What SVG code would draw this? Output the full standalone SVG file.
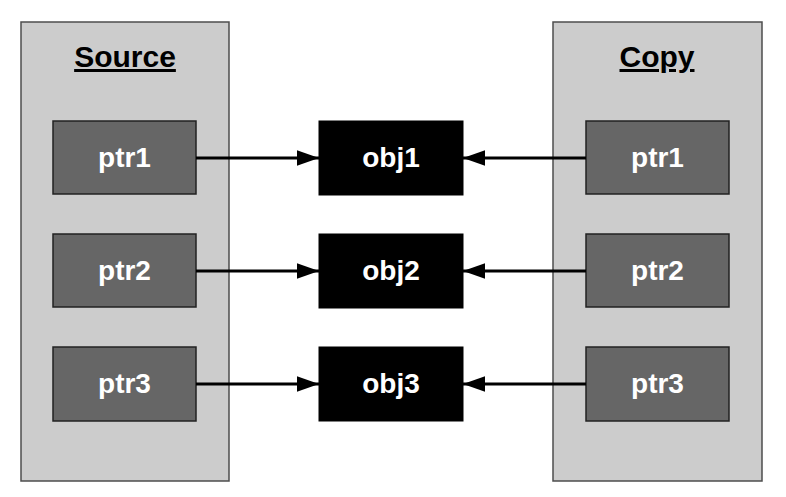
<svg xmlns="http://www.w3.org/2000/svg" width="786" height="497" viewBox="0 0 786 497">
<defs>
<style>
.cont{fill:#cccccc;stroke:#4d4d4d;stroke-width:1.5}
.ptr{fill:#666666;stroke:#222222;stroke-width:1.5}
.obj{fill:#000000;stroke:#000000;stroke-width:1}
.title{font-family:"Liberation Sans",Arial,sans-serif;font-weight:bold;font-size:30px;fill:#000;text-anchor:middle;text-decoration:underline}
.lbl{font-family:"Liberation Sans",Arial,sans-serif;font-weight:bold;font-size:28px;fill:#ffffff;text-anchor:middle}
.conn{stroke:#000;stroke-width:3;fill:none}
</style>
<marker id="ah" markerWidth="7.4" markerHeight="5.2" refX="7.4" refY="2.6" orient="auto" markerUnits="strokeWidth">
<path d="M0,0 L7.4,2.6 L0,5.2 Z" fill="#000"/>
</marker>
</defs>
<rect width="786" height="497" fill="#ffffff"/>
<g id="source">
<rect class="cont" x="21" y="22" width="208" height="459"/>
<text class="title" x="125" y="67">Source</text>
</g>
<g id="copy">
<rect class="cont" x="553" y="22" width="209" height="459"/>
<text class="title" x="657" y="67">Copy</text>
</g>
<g id="src-ptr1"><rect class="ptr" x="53" y="121" width="143" height="73"/><text class="lbl" x="124.5" y="167">ptr1</text></g>
<g id="src-ptr2"><rect class="ptr" x="53" y="234" width="143" height="73"/><text class="lbl" x="124.5" y="280">ptr2</text></g>
<g id="src-ptr3"><rect class="ptr" x="53" y="347" width="143" height="74"/><text class="lbl" x="124.5" y="393">ptr3</text></g>
<g id="cp-ptr1"><rect class="ptr" x="586" y="121" width="143" height="73"/><text class="lbl" x="657.5" y="167">ptr1</text></g>
<g id="cp-ptr2"><rect class="ptr" x="586" y="234" width="143" height="73"/><text class="lbl" x="657.5" y="280">ptr2</text></g>
<g id="cp-ptr3"><rect class="ptr" x="586" y="347" width="143" height="74"/><text class="lbl" x="657.5" y="393">ptr3</text></g>
<g id="obj1"><rect class="obj" x="319" y="121" width="144" height="74"/><text class="lbl" x="391" y="167">obj1</text></g>
<g id="obj2"><rect class="obj" x="319" y="234" width="144" height="74"/><text class="lbl" x="391" y="280">obj2</text></g>
<g id="obj3"><rect class="obj" x="319" y="347" width="144" height="74"/><text class="lbl" x="391" y="393">obj3</text></g>
<g id="connectors">
<line class="conn" x1="196" y1="158" x2="319" y2="158" marker-end="url(#ah)"/>
<line class="conn" x1="196" y1="271" x2="319" y2="271" marker-end="url(#ah)"/>
<line class="conn" x1="196" y1="384" x2="319" y2="384" marker-end="url(#ah)"/>
<line class="conn" x1="586" y1="158" x2="463" y2="158" marker-end="url(#ah)"/>
<line class="conn" x1="586" y1="271" x2="463" y2="271" marker-end="url(#ah)"/>
<line class="conn" x1="586" y1="384" x2="463" y2="384" marker-end="url(#ah)"/>
</g>
</svg>
